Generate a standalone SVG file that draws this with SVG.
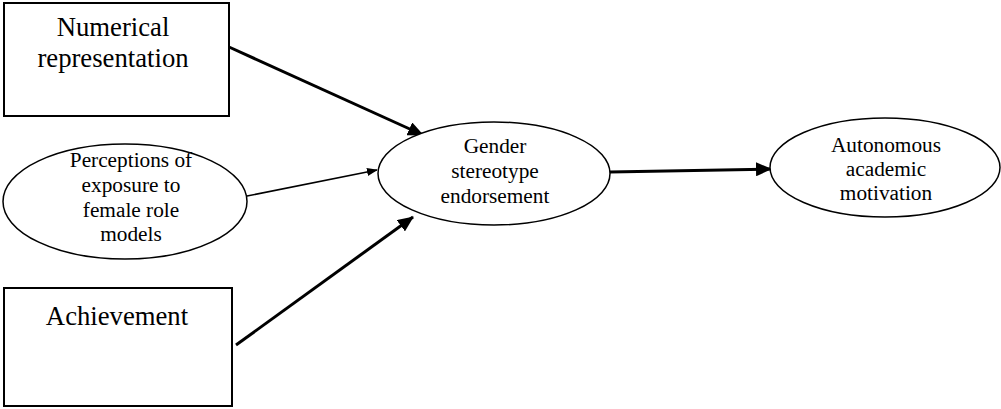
<svg xmlns="http://www.w3.org/2000/svg" width="1001" height="409" viewBox="0 0 1001 409">
<style>
.box{fill:#fff;stroke:#000;stroke-width:2}
.ell{fill:#fff;stroke:#000;stroke-width:1.5}
.big{font-family:"Liberation Serif","Times New Roman",serif;font-size:26.7px;fill:#000;text-anchor:middle}
.sm{font-family:"Liberation Serif","Times New Roman",serif;font-size:21.3px;fill:#000;text-anchor:middle}
.thick{stroke:#000;stroke-width:3;fill:none}
.thin{stroke:#000;stroke-width:1.6;fill:none}
</style>
<defs>
<marker id="ah" markerUnits="userSpaceOnUse" markerWidth="16" markerHeight="14" refX="15" refY="7" orient="auto">
<path d="M0,0 L16,7 L0,14 Z" fill="#000"/>
</marker>
<marker id="ahs" markerUnits="userSpaceOnUse" markerWidth="11" markerHeight="8" refX="10" refY="4" orient="auto">
<path d="M0,0 L11,4 L0,8 Z" fill="#000"/>
</marker>
</defs>
<rect width="1001" height="409" fill="#fff"/>
<g id="connectors">
<line class="thick" x1="229" y1="47" x2="423" y2="135" marker-end="url(#ah)"/>
<line class="thin" x1="247" y1="196" x2="377" y2="170" marker-end="url(#ahs)"/>
<line class="thick" x1="236" y1="345" x2="413" y2="217" marker-end="url(#ah)"/>
<line class="thick" x1="610" y1="172" x2="771" y2="169" marker-end="url(#ah)"/>
</g>
<g id="numerical">
<rect class="box" x="4" y="3" width="225" height="113"/>
<text class="big" x="113" y="36">Numerical</text>
<text class="big" x="113" y="67">representation</text>
</g>
<g id="perceptions">
<ellipse class="ell" cx="125" cy="201.5" rx="122" ry="57.5"/>
<text class="sm" x="131" y="167">Perceptions of</text>
<text class="sm" x="131" y="192">exposure to</text>
<text class="sm" x="131" y="217">female role</text>
<text class="sm" x="131" y="241">models</text>
</g>
<g id="achievement">
<rect class="box" x="4" y="288" width="228" height="118"/>
<text class="big" x="117" y="325">Achievement</text>
</g>
<g id="gender">
<ellipse class="ell" cx="494" cy="173.5" rx="116" ry="51.5"/>
<text class="sm" x="495" y="153">Gender</text>
<text class="sm" x="495" y="178">stereotype</text>
<text class="sm" x="495" y="203">endorsement</text>
</g>
<g id="autonomous">
<ellipse class="ell" cx="885" cy="167.5" rx="115" ry="49.5"/>
<text class="sm" x="886" y="152">Autonomous</text>
<text class="sm" x="886" y="176">academic</text>
<text class="sm" x="886" y="200">motivation</text>
</g>
</svg>
